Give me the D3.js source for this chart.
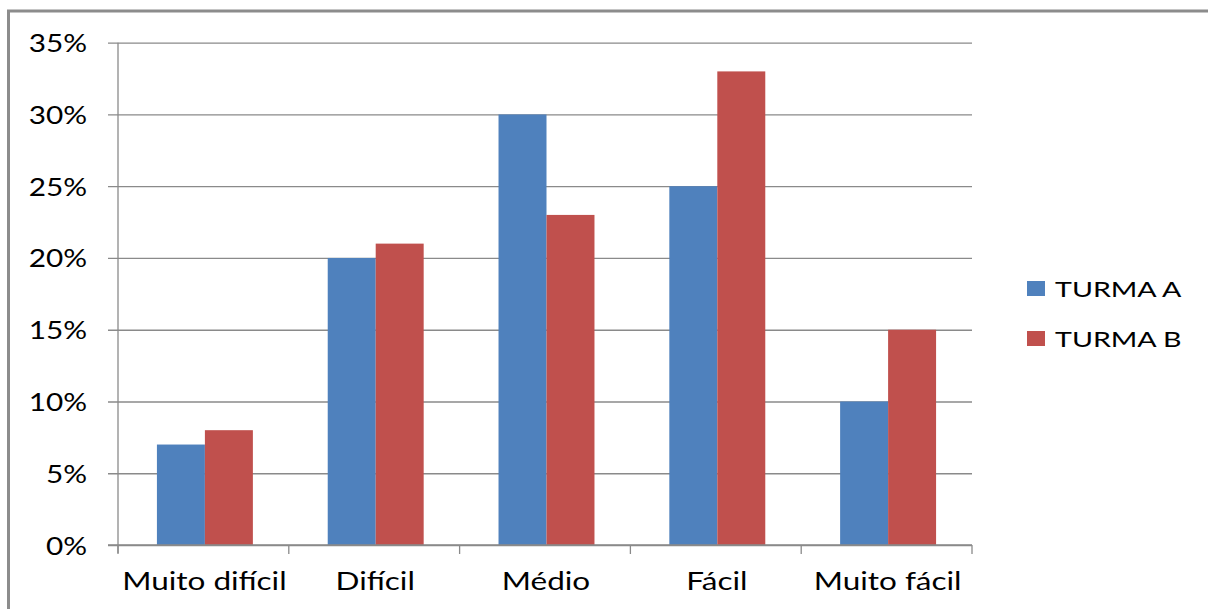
<!DOCTYPE html>
<html>
<head>
<meta charset="utf-8">
<script src="https://cdn.jsdelivr.net/npm/d3@7"></script>
<style>
  html, body { margin: 0; padding: 0; background: #fff; }
  svg { display: block; }
  text { font-family: Lato, "Open Sans", sans-serif; fill: #000; }
</style>
</head>
<body>
<svg id="chart" width="1208" height="609"></svg>
<script>
// Difficulty ratings by class
const categories = ["Muito difícil", "Difícil", "Médio", "Fácil", "Muito fácil"];
const seriesNames = ["TURMA A", "TURMA B"];
const turmaA = [7, 20, 30, 25, 10];
const turmaB = [8, 21, 23, 33, 15];
const yTicks = [0, 5, 10, 15, 20, 25, 30, 35];
const colors = ["#4F81BD", "#C0504D"];

const svg = d3.select("#chart");
const W = 1208, H = 609;

// outer frame (runs off the right and bottom edges)
svg.append("rect")
  .attr("x", 8.5).attr("y", 11)
  .attr("width", W + 20).attr("height", H + 20)
  .attr("fill", "#fff").attr("stroke", "#8c8c8c").attr("stroke-width", 3);

const plot = { left: 118, right: 972, top: 42.7, bottom: 545 };

const x = d3.scaleBand().domain(categories)
  .range([plot.left, plot.right]).paddingInner(0).paddingOuter(0);
const inner = d3.scaleBand().domain(seriesNames)
  .range([0, x.bandwidth()]).paddingInner(0).paddingOuter(0.78);
const y = d3.scaleLinear().domain([0, 35]).range([plot.bottom, plot.top]);

// horizontally widened text, anchored at (px, py)
function wide(sel, px, py, sx) {
  sel.attr("transform", `translate(${px},${py}) scale(${sx},1)`).attr("x", 0).attr("y", 0);
}

// horizontal gridlines with outward tick marks
const yAxis = d3.axisLeft(y).tickValues(yTicks)
  .tickSize(-(plot.right - plot.left)).tickSizeOuter(0)
  .tickFormat(d => d + "%");
const gy = svg.append("g").attr("transform", `translate(${plot.left},0)`).call(yAxis);
gy.select(".domain").remove();
gy.selectAll(".tick line").attr("stroke", "#8a8a8a").attr("stroke-width", 1.3)
  .attr("x1", -10);
gy.selectAll(".tick text").attr("font-size", 25).attr("dy", null)
  .attr("text-anchor", "end")
  .each(function () { wide(d3.select(this), -31, 9, 1.19); });

// bars
const rows = categories.map((c, i) => ({ cat: c, vals: [turmaA[i], turmaB[i]] }));
const groups = svg.append("g").selectAll("g").data(rows).join("g")
  .attr("transform", d => `translate(${x(d.cat) + 1.5},0)`);
groups.selectAll("rect")
  .data(d => d.vals.map((v, j) => ({ name: seriesNames[j], v, j })))
  .join("rect")
  .attr("x", d => inner(d.name))
  .attr("width", inner.bandwidth())
  .attr("y", d => y(d.v))
  .attr("height", d => y(0) - y(d.v))
  .attr("fill", d => colors[d.j]);

// y axis line
svg.append("line")
  .attr("x1", plot.left).attr("x2", plot.left)
  .attr("y1", plot.top).attr("y2", plot.bottom + 8)
  .attr("stroke", "#8a8a8a").attr("stroke-width", 1.3);

// category axis with ticks at band boundaries
const gx = svg.append("g").attr("transform", `translate(0,${plot.bottom})`);
gx.append("line").attr("x1", plot.left - 10).attr("x2", plot.right)
  .attr("stroke", "#8a8a8a").attr("stroke-width", 1.3);
const bounds = categories.map(c => x(c)).concat([plot.right]);
gx.selectAll("line.tk").data(bounds).join("line").attr("class", "tk")
  .attr("x1", d => d).attr("x2", d => d).attr("y1", 0).attr("y2", 9)
  .attr("stroke", "#8a8a8a").attr("stroke-width", 1.3);
gx.selectAll("text").data(categories).join("text")
  .attr("text-anchor", "middle")
  .attr("font-size", 25)
  .text(d => d)
  .each(function (d) { wide(d3.select(this), x(d) + x.bandwidth() / 2 + 1, 45, 1.26); });

// legend
const leg = svg.append("g").selectAll("g").data(seriesNames).join("g")
  .attr("transform", (d, i) => `translate(1027,${281 + i * 50})`);
leg.append("rect").attr("width", 18).attr("height", 15)
  .attr("fill", (d, i) => colors[i]);
leg.append("text").attr("font-size", 22).text(d => d)
  .each(function () { wide(d3.select(this), 28, 16, 1.3); });
</script>
</body>
</html>
